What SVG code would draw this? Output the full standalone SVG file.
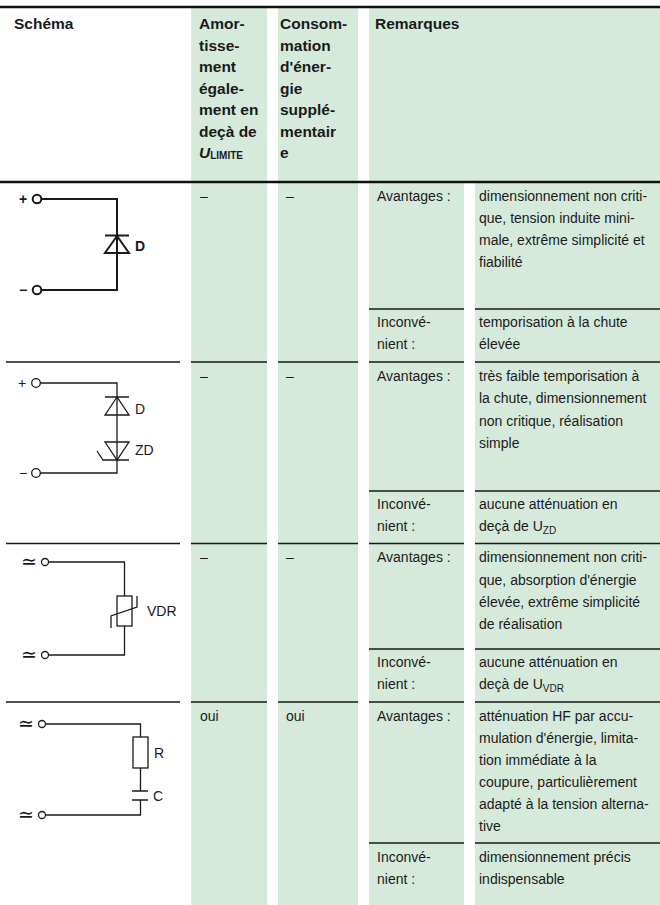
<svg xmlns="http://www.w3.org/2000/svg" width="660" height="905" viewBox="0 0 660 905">
<style>
.g{fill:#d6eadc}
.t{font-family:"Liberation Sans",Arial,"DejaVu Sans",sans-serif;font-size:14px;fill:#1a1a1a}
.h{font-family:"Liberation Sans",Arial,sans-serif;font-size:15.5px;font-weight:bold;fill:#1a1a1a}
.sep{stroke:#1a1a1a;stroke-width:1.3;fill:none}
.thick{stroke:#111;stroke-width:2.6;fill:none}
.w{fill:none;stroke:#1a1a1a;stroke-width:1.3}
.w2{fill:none;stroke:#1a1a1a;stroke-width:2}
.term{fill:#fff;stroke:#1a1a1a;stroke-width:1.3}
.term2{fill:#fff;stroke:#1a1a1a;stroke-width:2}
.sym{font-family:"DejaVu Sans",sans-serif;font-size:19px;fill:#1a1a1a}
.lb{font-family:"Liberation Sans",Arial,"DejaVu Sans",sans-serif;font-size:14px;fill:#1a1a1a}
</style>
<rect width="660" height="905" fill="#fff"/>
<g id="columns">
<rect class="g" x="191" y="8" width="76" height="897"/>
<rect class="g" x="278" y="8" width="80" height="897"/>
<rect class="g" x="369" y="8" width="95" height="897"/>
<rect class="g" x="475" y="8" width="185" height="897"/>
<rect class="g" x="463" y="8" width="13" height="174"/>
</g>
<g id="rules">
<path class="thick" d="M0,7 H660 M0,182 H660"/>
<path class="sep" d="M6,362 H180 M191,362 H267 M278,362 H358 M369,362 H464 M475,362 H660"/>
<path class="sep" d="M6,543.5 H180 M191,543.5 H267 M278,543.5 H358 M369,543.5 H464 M475,543.5 H660"/>
<path class="sep" d="M6,702 H180 M191,702 H267 M278,702 H358 M369,702 H464 M475,702 H660"/>
<path class="sep" d="M369,309 H464 M475,309 H660 M369,491 H464 M475,491 H660 M369,649 H464 M475,649 H660 M369,843 H464 M475,843 H660"/>
</g>
<g id="header">
<text class="h" x="14" y="29">Schéma</text>
<text class="h" x="199" y="29">Amor-</text>
<text class="h" x="199" y="51">tisse-</text>
<text class="h" x="199" y="72">ment</text>
<text class="h" x="199" y="94">égale-</text>
<text class="h" x="199" y="115">ment en</text>
<text class="h" x="199" y="137">deçà de</text>
<text class="h" x="199" y="158"><tspan font-style="italic">U</tspan><tspan font-size="10" dy="1">LIMITE</tspan></text>
<text class="h" x="280" y="29">Consom-</text>
<text class="h" x="280" y="51">mation</text>
<text class="h" x="280" y="72">d'éner-</text>
<text class="h" x="280" y="94">gie</text>
<text class="h" x="280" y="115">supplé-</text>
<text class="h" x="280" y="137">mentair</text>
<text class="h" x="280" y="158">e</text>
<text class="h" x="375" y="29">Remarques</text>
</g>
<g id="row1">
<g id="schema-diode" class="node">
<text class="lb" x="19" y="204" font-weight="bold" font-size="15">+</text>
<text class="lb" x="19" y="295" font-weight="bold" font-size="15">−</text>
<path class="w2" d="M41.3,199 H117 V290 H41.3"/>
<path class="w2" d="M105,235.5 H129 M117,236 L105,253 H129 Z"/>
<circle class="term2" cx="37" cy="199" r="4.3"/>
<circle class="term2" cx="37" cy="290" r="4.3"/>
<text class="lb" x="135" y="251" font-weight="bold">D</text>
</g>
<text class="t" x="200" y="201">–</text>
<text class="t" x="286" y="201">–</text>
<text class="t" x="377" y="201">Avantages :</text>
<text class="t" x="479" y="201">dimensionnement non criti-</text>
<text class="t" x="479" y="223">que, tension induite mini-</text>
<text class="t" x="479" y="245">male, extrême simplicité et</text>
<text class="t" x="479" y="267">fiabilité</text>
<text class="t" x="377" y="327">Inconvé-</text>
<text class="t" x="377" y="349">nient :</text>
<text class="t" x="479" y="327">temporisation à la chute</text>
<text class="t" x="479" y="349">élevée</text>
</g>
<g id="row2">
<g id="schema-diode-zener" class="node">
<text class="lb" x="18" y="388" font-size="15">+</text>
<text class="lb" x="19" y="478" font-size="15">−</text>
<path class="w" d="M40.3,383 H117 V473 H40.3"/>
<path class="w" d="M105,397 H129 M117,397 L105,415 H129 Z"/>
<path class="w" d="M105,442 H129 L117,460 Z M97,451 L103,460 H129"/>
<circle class="term" cx="36" cy="383" r="4.3"/>
<circle class="term" cx="36" cy="473" r="4.3"/>
<text class="lb" x="135" y="414">D</text>
<text class="lb" x="135" y="455">ZD</text>
</g>
<text class="t" x="200" y="381">–</text>
<text class="t" x="286" y="381">–</text>
<text class="t" x="377" y="381">Avantages :</text>
<text class="t" x="479" y="381">très faible temporisation à</text>
<text class="t" x="479" y="403">la chute, dimensionnement</text>
<text class="t" x="479" y="425.5">non critique, réalisation</text>
<text class="t" x="479" y="448">simple</text>
<text class="t" x="377" y="509">Inconvé-</text>
<text class="t" x="377" y="531">nient :</text>
<text class="t" x="479" y="509">aucune atténuation en</text>
<text class="t" x="479" y="531">deçà de U<tspan font-size="10" dy="3">ZD</tspan></text>
</g>
<g id="row3">
<g id="schema-vdr" class="node">
<text class="sym" x="21" y="568">≃</text>
<text class="sym" x="21" y="661">≃</text>
<path class="w" d="M48.5,562 H124.5 V596 M124.5,626 V655 H48.5"/>
<rect class="w" x="117" y="596" width="15" height="30"/>
<path class="w" stroke-width="1.6" d="M111,628 V616 L137,607 V596"/>
<circle class="term" cx="45" cy="562" r="3.5"/>
<circle class="term" cx="45" cy="655" r="3.5"/>
<text class="lb" x="147" y="616">VDR</text>
</g>
<text class="t" x="200" y="562">–</text>
<text class="t" x="286" y="562">–</text>
<text class="t" x="377" y="562">Avantages :</text>
<text class="t" x="479" y="562">dimensionnement non criti-</text>
<text class="t" x="479" y="584.5">que, absorption d'énergie</text>
<text class="t" x="479" y="607">élevée, extrême simplicité</text>
<text class="t" x="479" y="629">de réalisation</text>
<text class="t" x="377" y="667">Inconvé-</text>
<text class="t" x="377" y="689">nient :</text>
<text class="t" x="479" y="667">aucune atténuation en</text>
<text class="t" x="479" y="689">deçà de U<tspan font-size="10" dy="3">VDR</tspan></text>
</g>
<g id="row4">
<g id="schema-rc" class="node">
<text class="sym" x="18" y="730">≃</text>
<text class="sym" x="18" y="821">≃</text>
<path class="w" d="M45.5,724 H140.5 V737 M140.5,768 V791 M140.5,800 V815 H45.5"/>
<rect class="w" x="133" y="737" width="15" height="31"/>
<path class="w" stroke-width="1.8" d="M132,791 H148 M132,800 H148"/>
<circle class="term" cx="42" cy="724" r="3.5"/>
<circle class="term" cx="42" cy="815" r="3.5"/>
<text class="lb" x="154" y="758">R</text>
<text class="lb" x="153" y="801">C</text>
</g>
<text class="t" x="200" y="721">oui</text>
<text class="t" x="286" y="721">oui</text>
<text class="t" x="377" y="721">Avantages :</text>
<text class="t" x="479" y="721">atténuation HF par accu-</text>
<text class="t" x="479" y="743">mulation d'énergie, limita-</text>
<text class="t" x="479" y="765">tion immédiate à la</text>
<text class="t" x="479" y="787">coupure, particulièrement</text>
<text class="t" x="479" y="809">adapté à la tension alterna-</text>
<text class="t" x="479" y="831">tive</text>
<text class="t" x="377" y="862">Inconvé-</text>
<text class="t" x="377" y="884">nient :</text>
<text class="t" x="479" y="862">dimensionnement précis</text>
<text class="t" x="479" y="884">indispensable</text>
</g>
</svg>
